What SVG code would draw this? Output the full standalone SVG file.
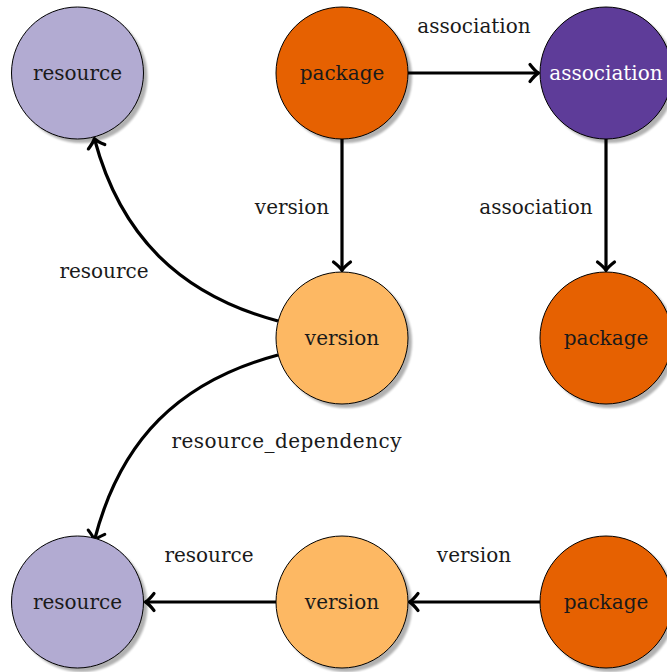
<svg xmlns="http://www.w3.org/2000/svg" width="667" height="672" viewBox="0 0 667 672">
<style>
.shadow{fill:#000;opacity:0.3;filter:url(#blur)}
.node{stroke:#000;stroke-width:1}
.t{font-family:"DejaVu Serif",serif;font-size:20px;text-anchor:middle;fill:#1a1a1a}
.edge{fill:none;stroke:#000;stroke-width:3.2}
.res{fill:#b2abd2}.pkg{fill:#e66101}.ass{fill:#5e3c99}.ver{fill:#fdb863}
</style>
<defs>
<filter id="blur" x="-20%" y="-20%" width="140%" height="140%"><feGaussianBlur stdDeviation="1"/></filter>
<marker id="arr" markerUnits="userSpaceOnUse" viewBox="-12 -12 16 24" refX="0" refY="0" markerWidth="16" markerHeight="24" orient="auto">
<path d="M-8,-8.5 Q-3,-2 0.5,0 Q-3,2 -8,8.5" fill="none" stroke="#000" stroke-width="3.2" stroke-linecap="round" stroke-linejoin="round"/>
</marker>
</defs>
<g id="connectors">
<path class="edge" d="M408,73 L538,73" marker-end="url(#arr)"/>
<path class="edge" d="M342,139 L342,270" marker-end="url(#arr)"/>
<path class="edge" d="M606,139 L606,270" marker-end="url(#arr)"/>
<path class="edge" d="M278,321 C179.5,294.6 120.4,235.5 94.5,139" marker-end="url(#arr)"/>
<path class="edge" d="M278,355 C179.5,381.4 120.4,439.5 94.5,540" marker-end="url(#arr)"/>
<path class="edge" d="M276,602 L146,602" marker-end="url(#arr)"/>
<path class="edge" d="M540,602 L410,602" marker-end="url(#arr)"/>
<text class="t" x="474" y="33">association</text>
<text class="t" x="292" y="214">version</text>
<text class="t" x="536" y="214">association</text>
<text class="t" x="104" y="278">resource</text>
<text class="t" x="286.5" y="448" textLength="230" lengthAdjust="spacing">resource_dependency</text>
<text class="t" x="209" y="562">resource</text>
<text class="t" x="474" y="562">version</text>
</g>
<g id="resource1"><circle class="shadow" cx="81.5" cy="77" r="66"/><circle class="node res" cx="77.5" cy="73" r="66"/><text class="t" x="77.5" y="80">resource</text></g>
<g id="package1"><circle class="shadow" cx="346" cy="77" r="66"/><circle class="node pkg" cx="342" cy="73" r="66"/><text class="t" x="342" y="80">package</text></g>
<g id="association1"><circle class="shadow" cx="610" cy="77" r="66"/><circle class="node ass" cx="606" cy="73" r="66"/><text class="t" x="606" y="80" style="fill:#fff">association</text></g>
<g id="version1"><circle class="shadow" cx="346" cy="342" r="66"/><circle class="node ver" cx="342" cy="338" r="66"/><text class="t" x="342" y="345">version</text></g>
<g id="package2"><circle class="shadow" cx="610" cy="342" r="66"/><circle class="node pkg" cx="606" cy="338" r="66"/><text class="t" x="606" y="345">package</text></g>
<g id="resource2"><circle class="shadow" cx="81.5" cy="606" r="66"/><circle class="node res" cx="77.5" cy="602" r="66"/><text class="t" x="77.5" y="609">resource</text></g>
<g id="version2"><circle class="shadow" cx="346" cy="606" r="66"/><circle class="node ver" cx="342" cy="602" r="66"/><text class="t" x="342" y="609">version</text></g>
<g id="package3"><circle class="shadow" cx="610" cy="606" r="66"/><circle class="node pkg" cx="606" cy="602" r="66"/><text class="t" x="606" y="609">package</text></g>
</svg>
